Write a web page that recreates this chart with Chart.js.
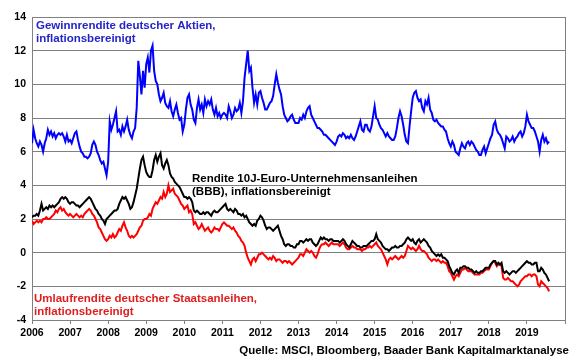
<!DOCTYPE html>
<html>
<head>
<meta charset="utf-8">
<script src="https://cdn.jsdelivr.net/npm/chart.js@4"></script>
<style>
  html, body { margin: 0; padding: 0; background: #fff; }
  canvas { display: block; }
</style>
</head>
<body>
<canvas id="chart" width="580" height="359"></canvas>
<script>
// Halbmonatswerte ab Januar 2006
const start = 2006;
const proJahr = 24;
const jahre = [2006, 2007, 2008, 2009, 2010, 2011, 2012, 2013, 2014, 2015, 2016, 2017, 2018, 2019];

// Gewinnrendite deutscher Aktien, inflationsbereinigt
const gewinnrendite = [
  6.5, 7.3, 6.8, 6.5, 6.3, 6.6, 6.4, 6.0, 6.5, 6.8, 7.3, 7.0, 7.2, 6.9, 7.1, 6.8, 7.0, 7.1, 7.0, 7.1, 6.9, 6.6, 7.0, 6.6,
  6.7, 6.5, 6.8, 7.1, 7.2, 6.7, 6.3, 6.0, 5.9, 5.7, 5.7, 5.6, 5.7, 5.9, 6.4, 6.6, 6.4, 6.0, 5.8, 5.5, 5.3, 5.4, 5.0, 4.6,
  5.4, 7.8, 7.3, 7.6, 8.0, 8.4, 7.2, 7.3, 7.0, 7.5, 7.2, 7.5, 7.9, 7.3, 7.0, 6.8, 7.2, 7.4, 8.6, 11.4, 10.5, 9.4, 10.8, 9.8,
  11.2, 11.6, 10.7, 12.0, 12.3, 10.8, 10.2, 10.0, 9.4, 9.0, 9.2, 9.5, 8.9, 8.7, 8.6, 9.0, 8.4, 8.1, 8.5, 8.8, 8.3, 7.9, 8.0, 7.2,
  7.6, 8.5, 9.2, 9.4, 8.8, 8.5, 7.9, 7.7, 8.6, 9.1, 8.5, 8.8, 8.3, 9.1, 8.7, 9.0, 8.8, 9.1, 8.5, 8.2, 8.6, 8.1, 8.3, 8.0,
  8.2, 8.3, 8.2, 8.0, 8.7, 8.4, 8.0, 8.2, 8.6, 8.4, 8.5, 8.9, 8.3, 9.0, 10.4, 11.2, 12.0, 10.8, 11.0, 9.8, 8.9, 9.4, 8.8, 9.5,
  9.6, 9.2, 8.9, 8.5, 8.5, 8.7, 8.9, 9.0, 9.3, 10.0, 10.6, 10.1, 9.7, 9.4, 8.7, 8.2, 8.0, 7.8, 7.9, 8.1, 8.2, 7.9, 7.7, 7.7,
  7.7, 8.0, 7.9, 8.2, 8.0, 8.4, 8.6, 8.7, 8.2, 8.0, 7.8, 7.6, 7.4, 7.4, 7.3, 7.2, 7.0, 7.0, 6.9, 6.8, 6.7, 6.6, 6.5, 6.4,
  6.6, 6.9, 7.0, 6.9, 7.1, 7.0, 6.8, 6.9, 6.8, 7.0, 6.8, 6.7, 6.9, 7.2, 7.5, 7.8, 7.3, 7.2, 7.6, 7.6, 7.3, 7.2, 7.5, 8.1,
  8.7, 8.0, 7.9, 7.6, 7.4, 7.3, 7.1, 6.9, 7.1, 6.9, 6.8, 6.7, 6.7, 6.9, 7.4, 8.0, 8.4, 8.1, 7.6, 7.0, 6.6, 6.5, 7.5, 8.4,
  9.2, 9.5, 9.6, 9.2, 9.0, 9.1, 8.6, 8.4, 9.0, 8.8, 9.2, 8.5, 8.3, 7.9, 7.8, 7.9, 7.7, 7.6, 7.5, 7.5, 7.3, 7.2, 6.8, 6.5,
  6.3, 6.6, 6.4, 6.0, 5.9, 5.8, 6.2, 6.5, 6.3, 6.2, 6.5, 6.6, 6.4, 6.6, 6.5, 6.3, 6.1, 6.0, 5.8, 5.8, 6.1, 6.3, 5.9, 6.2,
  6.5, 6.8, 7.0, 7.6, 7.8, 7.3, 7.1, 7.0, 6.8, 6.5, 6.2, 6.9, 6.8, 6.6, 6.7, 6.9, 6.6, 6.8, 6.9, 7.1, 7.2, 6.9, 7.1, 7.5,
  8.2, 7.8, 7.6, 7.4, 7.4, 7.2, 6.9, 6.6, 6.0, 6.7, 7.0, 6.6, 6.8, 6.5, 6.6
];

// Rendite 10J-Euro-Unternehmensanleihen (BBB), inflationsbereinigt
const unternehmensanleihen = [
  2.1, 2.2, 2.2, 2.3, 2.2, 2.5, 2.9, 2.5, 2.6, 2.7, 2.6, 2.8, 2.7, 2.8, 2.7, 2.8, 2.9, 3.0, 3.2, 3.3, 3.2, 3.3, 3.2, 3.0,
  2.9, 3.0, 3.0, 2.9, 2.8, 2.8, 2.7, 2.8, 2.9, 3.0, 3.1, 3.2, 3.3, 3.2, 3.0, 2.8, 2.6, 2.5, 2.3, 2.2, 2.0, 1.9, 1.7, 2.0,
  2.1, 2.2, 2.3, 2.4, 2.5, 2.5, 2.6, 2.9, 3.1, 3.3, 3.2, 3.3, 3.1, 2.9, 2.6, 2.7, 3.0, 3.4, 3.8, 4.4, 5.0, 5.5, 5.7, 5.2,
  4.8, 4.6, 4.5, 4.5, 4.9, 5.5, 5.8, 5.4, 5.7, 5.9, 5.2, 5.0, 5.3, 5.5, 5.2, 4.7, 4.5, 4.4, 4.2, 4.1, 4.0, 3.9, 3.7, 3.5,
  3.3, 3.3, 3.2, 3.3, 3.2, 3.0, 2.5, 2.4, 2.5, 2.4, 2.3, 2.3, 2.4, 2.3, 2.4, 2.4, 2.3, 2.2, 2.4, 2.5, 2.4, 2.4, 2.5, 2.6,
  2.7, 2.8, 2.9, 2.6, 2.5, 2.6, 2.5, 2.4, 2.6, 2.5, 2.3, 2.3, 2.2, 2.3, 2.1, 2.2, 2.0, 1.8, 1.7, 1.6, 1.7, 1.6, 1.9, 2.0,
  2.2, 2.1, 1.9, 1.6, 1.4, 1.5, 1.5, 1.4, 1.3, 1.4, 1.5, 1.6, 1.3, 1.0, 0.8, 0.5, 0.4, 0.5, 0.5, 0.4, 0.4, 0.3, 0.3, 0.5,
  0.5, 0.7, 0.7, 0.6, 0.7, 0.8, 0.7, 0.8, 0.8, 0.6, 0.5, 0.4, 0.5, 0.7, 0.9, 0.8, 0.9, 0.8, 0.8, 0.7, 0.8, 0.8, 0.7, 0.7,
  0.7, 0.7, 0.6, 0.7, 0.8, 0.7, 0.5, 0.4, 0.3, 0.5, 0.7, 0.6, 0.5, 0.4, 0.4, 0.3, 0.3, 0.4, 0.4, 0.4, 0.5, 0.6, 0.7, 0.7,
  0.8, 1.1, 0.8, 0.7, 0.6, 0.4, 0.3, 0.2, 0.2, 0.1, 0.2, 0.3, 0.3, 0.4, 0.3, 0.3, 0.4, 0.4, 0.5, 0.6, 0.8, 0.9, 0.8, 0.7,
  0.8, 0.6, 0.5, 0.7, 0.8, 0.6, 0.7, 0.8, 0.7, 0.6, 0.4, 0.3, 0.1, 0.0, -0.1, -0.2, -0.1, -0.2, -0.1, -0.3, -0.3, -0.4, -0.5, -0.8,
  -1.0, -1.2, -1.3, -1.1, -1.0, -1.2, -0.9, -0.9, -0.8, -0.8, -0.9, -0.9, -1.0, -1.0, -1.1, -1.2, -1.1, -1.2, -1.2, -1.1, -1.1, -1.0, -0.9, -0.9,
  -0.9, -0.7, -0.6, -0.5, -0.5, -0.7, -0.6, -0.7, -0.6, -1.1, -1.2, -1.1, -1.2, -1.3, -1.2, -1.1, -1.1, -1.2, -1.1, -1.0, -0.9, -0.8, -0.7, -0.6,
  -0.5, -0.6, -0.6, -0.7, -0.7, -0.6, -0.6, -1.1, -1.1, -0.9, -1.0, -1.2, -1.3, -1.5, -1.7
];

// Umlaufrendite deutscher Staatsanleihen, inflationsbereinigt
const staatsanleihen = [
  1.9, 1.7, 1.8, 1.9, 1.8, 1.9, 1.8, 2.0, 2.0, 2.1, 2.0, 2.0, 2.1, 2.2, 2.3, 2.5, 2.4, 2.6, 2.7, 2.5, 2.6, 2.4, 2.3, 2.2,
  2.3, 2.2, 2.1, 2.2, 2.3, 2.2, 2.1, 2.2, 2.1, 2.3, 2.4, 2.5, 2.6, 2.5, 2.3, 2.2, 2.0, 1.8, 1.5, 1.4, 1.2, 1.0, 0.8, 0.7,
  0.8, 1.0, 0.9, 1.1, 0.9, 1.0, 1.2, 1.4, 1.3, 1.6, 1.8, 1.5, 1.3, 1.0, 0.9, 1.0, 0.9, 1.0, 1.1, 1.3, 1.5, 1.6, 1.9, 2.0,
  2.0, 2.1, 2.3, 2.2, 2.6, 2.8, 3.0, 2.9, 3.1, 3.3, 3.2, 3.6, 3.3, 3.5, 4.0, 3.6, 3.7, 3.8, 3.5, 3.4, 3.3, 3.1, 2.9, 2.8,
  2.6, 2.7, 2.8, 2.4, 2.5, 2.3, 1.7, 1.8, 1.6, 1.4, 1.5, 1.7, 1.5, 1.3, 1.4, 1.5, 1.3, 1.2, 1.3, 1.5, 1.4, 1.4, 1.3, 1.5,
  1.7, 1.8, 1.7, 1.6, 1.6, 1.5, 1.4, 1.5, 1.3, 1.2, 1.0, 0.9, 0.7, 0.6, 0.4, 0.0, -0.3, -0.5, -0.7, -0.4, -0.3, -0.5, -0.3, -0.1,
  -0.1, 0.0, -0.1, -0.2, -0.3, -0.4, -0.3, -0.4, -0.2, -0.3, -0.5, -0.4, -0.4, -0.5, -0.6, -0.5, -0.5, -0.6, -0.5, -0.6, -0.7, -0.6, -0.5, -0.4,
  -0.3, -0.1, -0.1, -0.2, 0.0, 0.2, 0.1, 0.0, 0.1, 0.0, -0.2, -0.3, -0.1, 0.2, 0.4, 0.5, 0.5, 0.6, 0.5, 0.4, 0.5, 0.6, 0.5, 0.5,
  0.5, 0.5, 0.4, 0.5, 0.6, 0.5, 0.3, 0.2, 0.2, 0.3, 0.4, 0.3, 0.3, 0.2, 0.2, 0.2, 0.1, 0.2, 0.2, 0.3, 0.3, 0.4, 0.3, 0.4,
  0.5, 0.6, 0.4, 0.3, 0.2, 0.0, -0.2, -0.4, -0.7, -0.4, -0.3, -0.4, -0.3, -0.2, -0.3, -0.4, -0.3, -0.2, -0.3, -0.2, 0.1, 0.4, 0.3, 0.2,
  0.3, 0.2, 0.1, 0.2, 0.4, 0.2, 0.1, 0.1, 0.0, -0.1, -0.3, -0.4, -0.5, -0.4, -0.4, -0.5, -0.4, -0.5, -0.6, -0.5, -0.6, -0.6, -0.8, -1.1,
  -1.2, -1.4, -1.6, -1.4, -1.3, -1.4, -1.2, -1.0, -1.0, -0.9, -1.0, -1.1, -1.1, -1.1, -1.2, -1.3, -1.3, -1.3, -1.3, -1.2, -1.2, -1.1, -1.0, -1.0,
  -1.0, -0.8, -0.6, -0.5, -0.6, -0.8, -0.7, -0.7, -0.8, -1.5, -1.6, -1.6, -1.5, -1.6, -1.7, -1.7, -1.8, -1.9, -2.0, -1.9, -1.7, -1.6, -1.5, -1.4,
  -1.4, -1.3, -1.3, -1.4, -1.3, -1.3, -1.4, -1.9, -2.0, -1.7, -1.8, -1.9, -2.0, -2.1, -2.3
];

const schrift = "'Liberation Sans', Arial, sans-serif";

function punkte(werte) {
  return werte.map((v, i) => ({ x: start + i / proJahr, y: v }));
}

function linie(werte, farbe) {
  return {
    data: punkte(werte),
    borderColor: farbe,
    borderWidth: 2,
    pointRadius: 0,
    tension: 0,
    fill: false
  };
}

// Beschriftungen im Diagramm, Rahmen rechts, Quelle
const beschriftung = {
  id: 'beschriftung',
  afterDraw(chart) {
    const ctx = chart.ctx;
    const a = chart.chartArea;
    ctx.save();
    ctx.strokeStyle = '#808080';
    ctx.lineWidth = 1;
    ctx.beginPath();
    ctx.moveTo(Math.round(a.right) + 0.5, a.top);
    ctx.lineTo(Math.round(a.right) + 0.5, a.bottom);
    ctx.stroke();

    ctx.font = 'bold 11.5px ' + schrift;
    ctx.textBaseline = 'alphabetic';
    ctx.textAlign = 'left';
    ctx.fillStyle = '#2424c8';
    ctx.fillText('Gewinnrendite deutscher Aktien,', 36, 29);
    ctx.fillText('inflationsbereinigt', 36, 42);
    ctx.fillStyle = '#000000';
    ctx.fillText('Rendite 10J-Euro-Unternehmensanleihen', 192, 182);
    ctx.fillText('(BBB), inflationsbereinigt', 192, 195);
    ctx.fillStyle = '#e01e1e';
    ctx.fillText('Umlaufrendite deutscher Staatsanleihen,', 34, 302);
    ctx.fillText('inflationsbereinigt', 34, 315);

    ctx.fillStyle = '#000000';
    ctx.textAlign = 'right';
    ctx.fillText('Quelle: MSCI, Bloomberg, Baader Bank Kapitalmarktanalyse', 569, 354);
    ctx.restore();
  }
};

const ctx = document.getElementById('chart').getContext('2d');
new Chart(ctx, {
  type: 'line',
  data: {
    datasets: [
      linie(unternehmensanleihen, '#000000'),
      linie(staatsanleihen, '#ff0000'),
      linie(gewinnrendite, '#0000ff')
    ]
  },
  options: {
    responsive: false,
    animation: false,
    layout: { padding: { left: 0, right: 15, top: 17, bottom: 0 } },
    plugins: {
      legend: { display: false },
      tooltip: { enabled: false }
    },
    scales: {
      x: {
        type: 'linear',
        min: 2006,
        max: 2020,
        afterFit: s => { s.height = 39; },
        ticks: {
          stepSize: 1,
          autoSkip: false,
          maxRotation: 0,
          padding: 3,
          color: '#000000',
          font: { family: schrift, size: 10.5, weight: 'bold' },
          callback: v => jahre.includes(v) ? String(v) : ''
        },
        grid: { drawOnChartArea: false, drawTicks: true, tickLength: 4, color: '#808080' },
        border: { color: '#808080' }
      },
      y: {
        min: -4,
        max: 14,
        afterFit: s => { s.width = 32; },
        ticks: {
          stepSize: 2,
          padding: 6,
          color: '#000000',
          font: { family: schrift, size: 10.5, weight: 'bold' }
        },
        grid: { color: '#808080', drawTicks: false },
        border: { color: '#808080' }
      }
    }
  },
  plugins: [beschriftung]
});
</script>
</body>
</html>
